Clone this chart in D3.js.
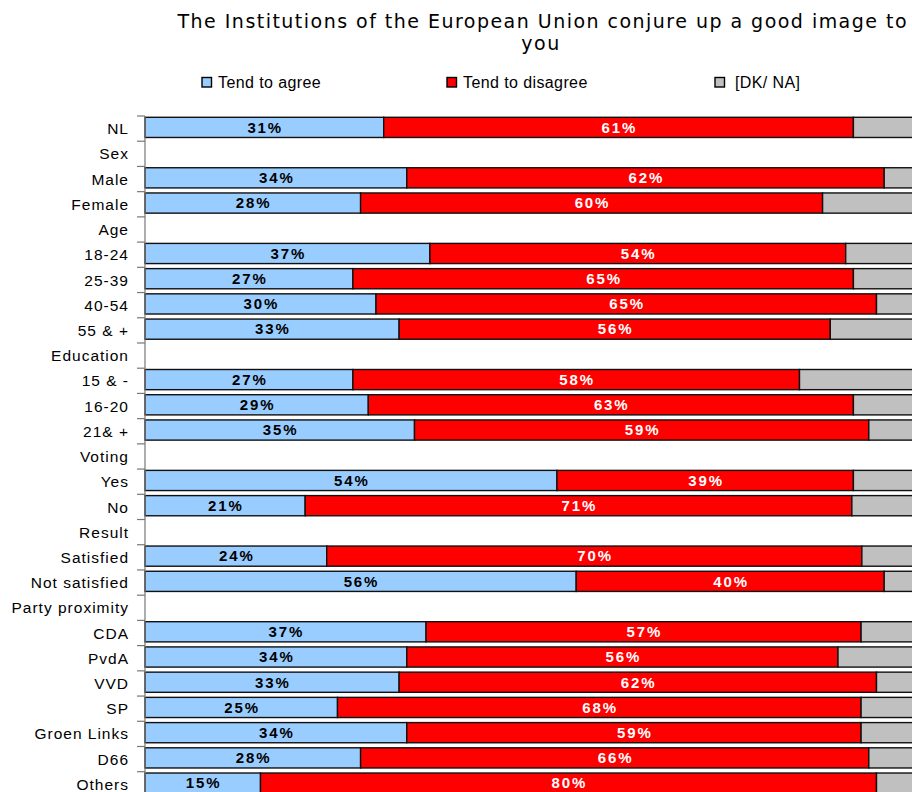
<!DOCTYPE html>
<html>
<head>
<meta charset="utf-8">
<script src="https://cdn.jsdelivr.net/npm/d3@7"></script>
<style>
  html, body { margin: 0; padding: 0; background: #fff; overflow: hidden; }
  svg { display: block; }
</style>
</head>
<body>
<svg id="chart" width="912" height="792"></svg>
<script>
const titleLines = ["The Institutions of the European Union conjure up a good image to", "you"];
const seriesNames = ["Tend to agree", "Tend to disagree", "[DK/ NA]"];
const seriesColors = ["#99CCFF", "#FF0000", "#C0C0C0"];
const categories = ["NL","Sex","Male","Female","Age","18-24","25-39","40-54","55 & +","Education","15 & -","16-20","21& +","Voting","Yes","No","Result","Satisfied","Not satisfied","Party proximity","CDA","PvdA","VVD","SP","Groen Links","D66","Others"];
const agree    = [31,null,34,28,null,37,27,30,33,null,27,29,35,null,53.5,20.8,null,23.6,56,null,36.5,34,33,25,34,28,15];
const disagree = [61,null,62,60,null,54,65,65,56,null,58,63,59,null,38.5,71,null,69.5,40,null,56.5,56,62,68,59,66,80];
const dkna     = [8,null,4,12,null,9,8,5,11,null,15,8,6,null,8,8,null,7,4,null,7,10,5,7,7,6,5];

const keys = ["agree", "disagree", "dk"];
const rows = categories.map((c, i) => ({cat: c, agree: agree[i], disagree: disagree[i], dk: dkna[i]}));

const svg = d3.select("#chart");

const x = d3.scaleLinear().domain([0, 100]).range([145, 915]);
const y = d3.scaleBand().domain(categories)
  .range([117.3, 117.3 + 27 * 25.22])
  .paddingInner(0.2).paddingOuter(0.1).align(0);

const stack = d3.stack().keys(keys).value((d, k) => d[k] == null ? 0 : d[k]);
const layers = stack(rows);

// Title
const title = svg.append("g").attr("font-family", "'DejaVu Sans', Verdana, sans-serif").attr("fill", "#000");
title.append("text").attr("x", 542).attr("y", 28).attr("text-anchor", "middle")
  .attr("font-size", 19).attr("textLength", 729).attr("lengthAdjust", "spacing").text(titleLines[0]);
title.append("text").attr("x", 541).attr("y", 50).attr("text-anchor", "middle")
  .attr("font-size", 19).attr("letter-spacing", 1.5).text(titleLines[1]);

// Legend
const legendX = [202, 447, 715];
const legendTextX = [218, 463, 735];
const legend = svg.append("g").attr("font-family", "'Liberation Sans', Arial, sans-serif");
seriesNames.forEach((name, i) => {
  legend.append("rect").attr("x", legendX[i]).attr("y", 77.5).attr("width", 9.5).attr("height", 9.5)
    .attr("fill", seriesColors[i]).attr("stroke", "#000").attr("stroke-width", 1.4);
  legend.append("text").attr("x", legendTextX[i]).attr("y", 88.3).attr("font-size", 16)
    .attr("letter-spacing", 0.4).attr("fill", "#000").text(name);
});

// Bars
const barG = svg.append("g");
layers.forEach((layer, li) => {
  barG.append("g").attr("fill", seriesColors[li])
    .selectAll("rect")
    .data(layer.filter(d => d.data[keys[li]] != null))
    .join("rect")
    .attr("x", d => x(d[0]))
    .attr("y", d => y(d.data.cat))
    .attr("width", d => x(d[1]) - x(d[0]))
    .attr("height", y.bandwidth())
    .attr("stroke", "#111")
    .attr("stroke-width", 1.4);
});

// Value labels (agree and disagree only)
const labG = svg.append("g").attr("font-family", "'Liberation Sans', Arial, sans-serif")
  .attr("font-weight", "bold").attr("font-size", 15).attr("letter-spacing", 1.9)
  .attr("text-anchor", "middle");
[0, 1].forEach(li => {
  labG.append("g").attr("fill", li === 0 ? "#000" : "#fff")
    .selectAll("text")
    .data(layers[li].filter(d => d.data[keys[li]] != null))
    .join("text")
    .attr("x", d => (x(d[0]) + x(d[1])) / 2 + 0.9)
    .attr("y", d => y(d.data.cat) + 15.4)
    .text(d => Math.round(d.data[keys[li]]) + "%");
});

// Axis
const axisG = svg.append("g").attr("transform", "translate(145,0)");
axisG.append("line").attr("x1", 0).attr("x2", 0)
  .attr("y1", y(categories[0]) - 1.3).attr("y2", 792)
  .attr("stroke", "#777").attr("stroke-width", 1.2);
axisG.selectAll("line.tick")
  .data(categories)
  .join("line").attr("class", "tick")
  .attr("x1", -8).attr("x2", 0)
  .attr("y1", d => y(d) - 1.3).attr("y2", d => y(d) - 1.3)
  .attr("stroke", "#777").attr("stroke-width", 1.2);
axisG.selectAll("text.cat")
  .data(categories)
  .join("text").attr("class", "cat")
  .attr("x", -16)
  .attr("y", d => y(d) + 16.9)
  .attr("text-anchor", "end")
  .attr("font-family", "'Liberation Sans', Arial, sans-serif")
  .attr("font-size", 15.5).attr("letter-spacing", 1.0).attr("fill", "#000")
  .text(d => d);
</script>
</body>
</html>
